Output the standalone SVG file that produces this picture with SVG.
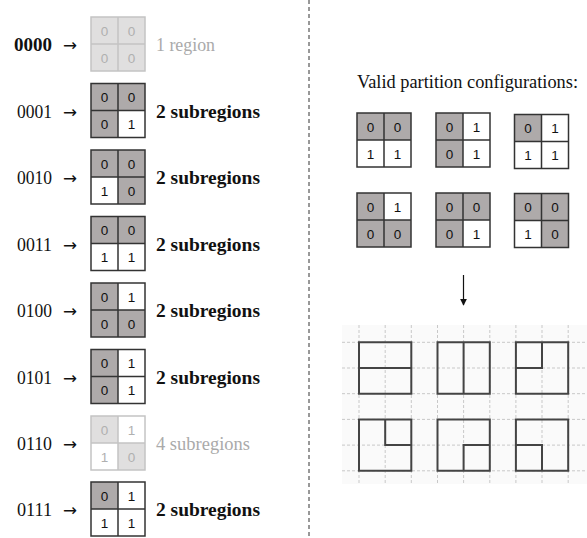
<svg xmlns="http://www.w3.org/2000/svg" width="587" height="538" viewBox="0 0 587 538">
<style>
.lbl{font-family:"Liberation Serif",serif;font-size:18px;fill:#111;}
.ar{font-family:"Noto Sans","DejaVu Sans",sans-serif;font-size:17px;fill:#111;}
.sub{font-family:"Liberation Serif",serif;font-size:18.5px;font-weight:bold;fill:#111;}
.fsub{font-family:"Liberation Serif",serif;font-size:18px;fill:#aaa;}
.ttl{font-family:"Liberation Serif",serif;font-size:18px;fill:#111;}
.d{fill:#aeaaaa;}
.w{fill:#fff;}
.bd{fill:none;stroke:#333;stroke-width:1.5;}
.n{font-family:"Liberation Sans",sans-serif;font-size:13.5px;fill:#111;text-anchor:middle;}
.fd{fill:#e0dfdf;}
.fb{fill:none;stroke:#c4c4c4;stroke-width:1.5;}
.fn{font-family:"Liberation Sans",sans-serif;font-size:13.5px;fill:#b0b0b0;text-anchor:middle;}
.gl{stroke:#c8c8c8;stroke-width:1;stroke-dasharray:3 2;fill:none;}
.sh{fill:none;stroke:#444;stroke-width:2;}
</style>
<defs>
<marker id="ah" viewBox="0 0 10 10" refX="9" refY="5" markerWidth="6" markerHeight="6" orient="auto"><path d="M0,0 L10,5 L0,10 z" fill="#111"/></marker>
<path id="cross" d="M27,0 V54 M0,27 H54"/>
</defs>

<!-- separator -->
<line x1="309" y1="0" x2="309" y2="538" stroke="#333" stroke-width="1" stroke-dasharray="4 3"/>

<!-- left rows -->
<g id="row0000">
<text class="lbl" x="14" y="51" font-weight="bold" textLength="38" lengthAdjust="spacingAndGlyphs">0000</text>
<text class="ar" x="63" y="51" textLength="14" lengthAdjust="spacingAndGlyphs">→</text>
<g transform="translate(91,17)">
<rect class="fd" x="0" y="0" width="54" height="54"/>
<rect class="fb" x="0" y="0" width="54" height="54"/><use href="#cross" class="fb"/>
<text class="fn" x="13.5" y="18.5">0</text><text class="fn" x="40.5" y="18.5">0</text>
<text class="fn" x="13.5" y="45.5">0</text><text class="fn" x="40.5" y="45.5">0</text>
</g>
<text class="fsub" x="156" y="51" textLength="59" lengthAdjust="spacingAndGlyphs">1 region</text>
</g>

<g id="row0001">
<text class="lbl" x="17" y="117.5" textLength="35" lengthAdjust="spacingAndGlyphs">0001</text>
<text class="ar" x="63" y="117.5" textLength="14" lengthAdjust="spacingAndGlyphs">→</text>
<g transform="translate(91,83.5)">
<rect class="d" x="0" y="0" width="54" height="54"/><rect class="w" x="27" y="27" width="27" height="27"/>
<rect class="bd" x="0" y="0" width="54" height="54"/><use href="#cross" class="bd"/>
<text class="n" x="13.5" y="18.5">0</text><text class="n" x="40.5" y="18.5">0</text>
<text class="n" x="13.5" y="45.5">0</text><text class="n" x="40.5" y="45.5">1</text>
</g>
<text class="sub" x="156" y="117.5" textLength="104" lengthAdjust="spacingAndGlyphs">2 subregions</text>
</g>

<g id="row0010">
<text class="lbl" x="17" y="184" textLength="35" lengthAdjust="spacingAndGlyphs">0010</text>
<text class="ar" x="63" y="184" textLength="14" lengthAdjust="spacingAndGlyphs">→</text>
<g transform="translate(91,150)">
<rect class="d" x="0" y="0" width="54" height="54"/><rect class="w" x="0" y="27" width="27" height="27"/>
<rect class="bd" x="0" y="0" width="54" height="54"/><use href="#cross" class="bd"/>
<text class="n" x="13.5" y="18.5">0</text><text class="n" x="40.5" y="18.5">0</text>
<text class="n" x="13.5" y="45.5">1</text><text class="n" x="40.5" y="45.5">0</text>
</g>
<text class="sub" x="156" y="184" textLength="104" lengthAdjust="spacingAndGlyphs">2 subregions</text>
</g>

<g id="row0011">
<text class="lbl" x="17" y="250.5" textLength="35" lengthAdjust="spacingAndGlyphs">0011</text>
<text class="ar" x="63" y="250.5" textLength="14" lengthAdjust="spacingAndGlyphs">→</text>
<g transform="translate(91,216.5)">
<rect class="d" x="0" y="0" width="54" height="27"/><rect class="w" x="0" y="27" width="54" height="27"/>
<rect class="bd" x="0" y="0" width="54" height="54"/><use href="#cross" class="bd"/>
<text class="n" x="13.5" y="18.5">0</text><text class="n" x="40.5" y="18.5">0</text>
<text class="n" x="13.5" y="45.5">1</text><text class="n" x="40.5" y="45.5">1</text>
</g>
<text class="sub" x="156" y="250.5" textLength="104" lengthAdjust="spacingAndGlyphs">2 subregions</text>
</g>

<g id="row0100">
<text class="lbl" x="17" y="317" textLength="35" lengthAdjust="spacingAndGlyphs">0100</text>
<text class="ar" x="63" y="317" textLength="14" lengthAdjust="spacingAndGlyphs">→</text>
<g transform="translate(91,283)">
<rect class="d" x="0" y="0" width="54" height="54"/><rect class="w" x="27" y="0" width="27" height="27"/>
<rect class="bd" x="0" y="0" width="54" height="54"/><use href="#cross" class="bd"/>
<text class="n" x="13.5" y="18.5">0</text><text class="n" x="40.5" y="18.5">1</text>
<text class="n" x="13.5" y="45.5">0</text><text class="n" x="40.5" y="45.5">0</text>
</g>
<text class="sub" x="156" y="317" textLength="104" lengthAdjust="spacingAndGlyphs">2 subregions</text>
</g>

<g id="row0101">
<text class="lbl" x="17" y="383.5" textLength="35" lengthAdjust="spacingAndGlyphs">0101</text>
<text class="ar" x="63" y="383.5" textLength="14" lengthAdjust="spacingAndGlyphs">→</text>
<g transform="translate(91,349.5)">
<rect class="d" x="0" y="0" width="27" height="54"/><rect class="w" x="27" y="0" width="27" height="54"/>
<rect class="bd" x="0" y="0" width="54" height="54"/><use href="#cross" class="bd"/>
<text class="n" x="13.5" y="18.5">0</text><text class="n" x="40.5" y="18.5">1</text>
<text class="n" x="13.5" y="45.5">0</text><text class="n" x="40.5" y="45.5">1</text>
</g>
<text class="sub" x="156" y="383.5" textLength="104" lengthAdjust="spacingAndGlyphs">2 subregions</text>
</g>

<g id="row0110">
<text class="lbl" x="17" y="450" textLength="35" lengthAdjust="spacingAndGlyphs">0110</text>
<text class="ar" x="63" y="450" textLength="14" lengthAdjust="spacingAndGlyphs">→</text>
<g transform="translate(91,416)">
<rect class="w" x="0" y="0" width="54" height="54"/>
<rect class="fd" x="0" y="0" width="27" height="27"/><rect class="fd" x="27" y="27" width="27" height="27"/>
<rect class="fb" x="0" y="0" width="54" height="54"/><use href="#cross" class="fb"/>
<text class="fn" x="13.5" y="18.5">0</text><text class="fn" x="40.5" y="18.5">1</text>
<text class="fn" x="13.5" y="45.5">1</text><text class="fn" x="40.5" y="45.5">0</text>
</g>
<text class="fsub" x="156" y="450" textLength="94" lengthAdjust="spacingAndGlyphs">4 subregions</text>
</g>

<g id="row0111">
<text class="lbl" x="17" y="516" textLength="35" lengthAdjust="spacingAndGlyphs">0111</text>
<text class="ar" x="63" y="516" textLength="14" lengthAdjust="spacingAndGlyphs">→</text>
<g transform="translate(91,482)">
<rect class="w" x="0" y="0" width="54" height="54"/><rect class="d" x="0" y="0" width="27" height="27"/>
<rect class="bd" x="0" y="0" width="54" height="54"/><use href="#cross" class="bd"/>
<text class="n" x="13.5" y="18.5">0</text><text class="n" x="40.5" y="18.5">1</text>
<text class="n" x="13.5" y="45.5">1</text><text class="n" x="40.5" y="45.5">1</text>
</g>
<text class="sub" x="156" y="516" textLength="104" lengthAdjust="spacingAndGlyphs">2 subregions</text>
</g>

<!-- right side -->
<text id="title" class="ttl" x="357" y="88" textLength="221" lengthAdjust="spacingAndGlyphs">Valid partition configurations:</text>

<g id="cfg1" transform="translate(357,113)">
<rect class="d" x="0" y="0" width="54" height="27"/><rect class="w" x="0" y="27" width="54" height="27"/>
<rect class="bd" x="0" y="0" width="54" height="54"/><use href="#cross" class="bd"/>
<text class="n" x="13.5" y="18.5">0</text><text class="n" x="40.5" y="18.5">0</text>
<text class="n" x="13.5" y="45.5">1</text><text class="n" x="40.5" y="45.5">1</text>
</g>
<g id="cfg2" transform="translate(436,113)">
<rect class="d" x="0" y="0" width="27" height="54"/><rect class="w" x="27" y="0" width="27" height="54"/>
<rect class="bd" x="0" y="0" width="54" height="54"/><use href="#cross" class="bd"/>
<text class="n" x="13.5" y="18.5">0</text><text class="n" x="40.5" y="18.5">1</text>
<text class="n" x="13.5" y="45.5">0</text><text class="n" x="40.5" y="45.5">1</text>
</g>
<g id="cfg3" transform="translate(514.5,114.5)">
<rect class="w" x="0" y="0" width="54" height="54"/><rect class="d" x="0" y="0" width="27" height="27"/>
<rect class="bd" x="0" y="0" width="54" height="54"/><use href="#cross" class="bd"/>
<text class="n" x="13.5" y="18.5">0</text><text class="n" x="40.5" y="18.5">1</text>
<text class="n" x="13.5" y="45.5">1</text><text class="n" x="40.5" y="45.5">1</text>
</g>
<g id="cfg4" transform="translate(357,193)">
<rect class="d" x="0" y="0" width="54" height="54"/><rect class="w" x="27" y="0" width="27" height="27"/>
<rect class="bd" x="0" y="0" width="54" height="54"/><use href="#cross" class="bd"/>
<text class="n" x="13.5" y="18.5">0</text><text class="n" x="40.5" y="18.5">1</text>
<text class="n" x="13.5" y="45.5">0</text><text class="n" x="40.5" y="45.5">0</text>
</g>
<g id="cfg5" transform="translate(436,193)">
<rect class="d" x="0" y="0" width="54" height="54"/><rect class="w" x="27" y="27" width="27" height="27"/>
<rect class="bd" x="0" y="0" width="54" height="54"/><use href="#cross" class="bd"/>
<text class="n" x="13.5" y="18.5">0</text><text class="n" x="40.5" y="18.5">0</text>
<text class="n" x="13.5" y="45.5">0</text><text class="n" x="40.5" y="45.5">1</text>
</g>
<g id="cfg6" transform="translate(514.5,193.5)">
<rect class="d" x="0" y="0" width="54" height="54"/><rect class="w" x="0" y="27" width="27" height="27"/>
<rect class="bd" x="0" y="0" width="54" height="54"/><use href="#cross" class="bd"/>
<text class="n" x="13.5" y="18.5">0</text><text class="n" x="40.5" y="18.5">0</text>
<text class="n" x="13.5" y="45.5">1</text><text class="n" x="40.5" y="45.5">0</text>
</g>

<g id="connectors">
<line x1="463.5" y1="275" x2="463.5" y2="305" stroke="#111" stroke-width="1.2" marker-end="url(#ah)"/>
</g>

<g id="shapes">
<rect x="342" y="325" width="245" height="159" fill="#fafafa"/>
<path class="gl" d="M359,325V484 M385.2,325V484 M411.3,325V484 M437.5,325V484 M463.6,325V484 M489.8,325V484 M515.9,325V484 M542,325V484 M568.2,325V484"/>
<path class="gl" d="M342,342.3H587 M342,368H587 M342,393.7H587 M342,419.4H587 M342,445.1H587 M342,470.8H587"/>
<path class="sh" d="M359,342.3H411.3V393.7H359Z M359,368H411.3"/>
<path class="sh" d="M437.5,342.3H489.8V393.7H437.5Z M463.6,342.3V393.7"/>
<path class="sh" d="M515.9,342.3H568.2V393.7H515.9Z M515.9,368H542V342.3"/>
<path class="sh" d="M359,419.4H411.3V470.8H359Z M385.2,419.4V445.1H411.3"/>
<path class="sh" d="M437.5,419.4H489.8V470.8H437.5Z M463.6,470.8V445.1H489.8"/>
<path class="sh" d="M515.9,419.4H568.2V470.8H515.9Z M515.9,445.1H542V470.8"/>
</g>
</svg>
